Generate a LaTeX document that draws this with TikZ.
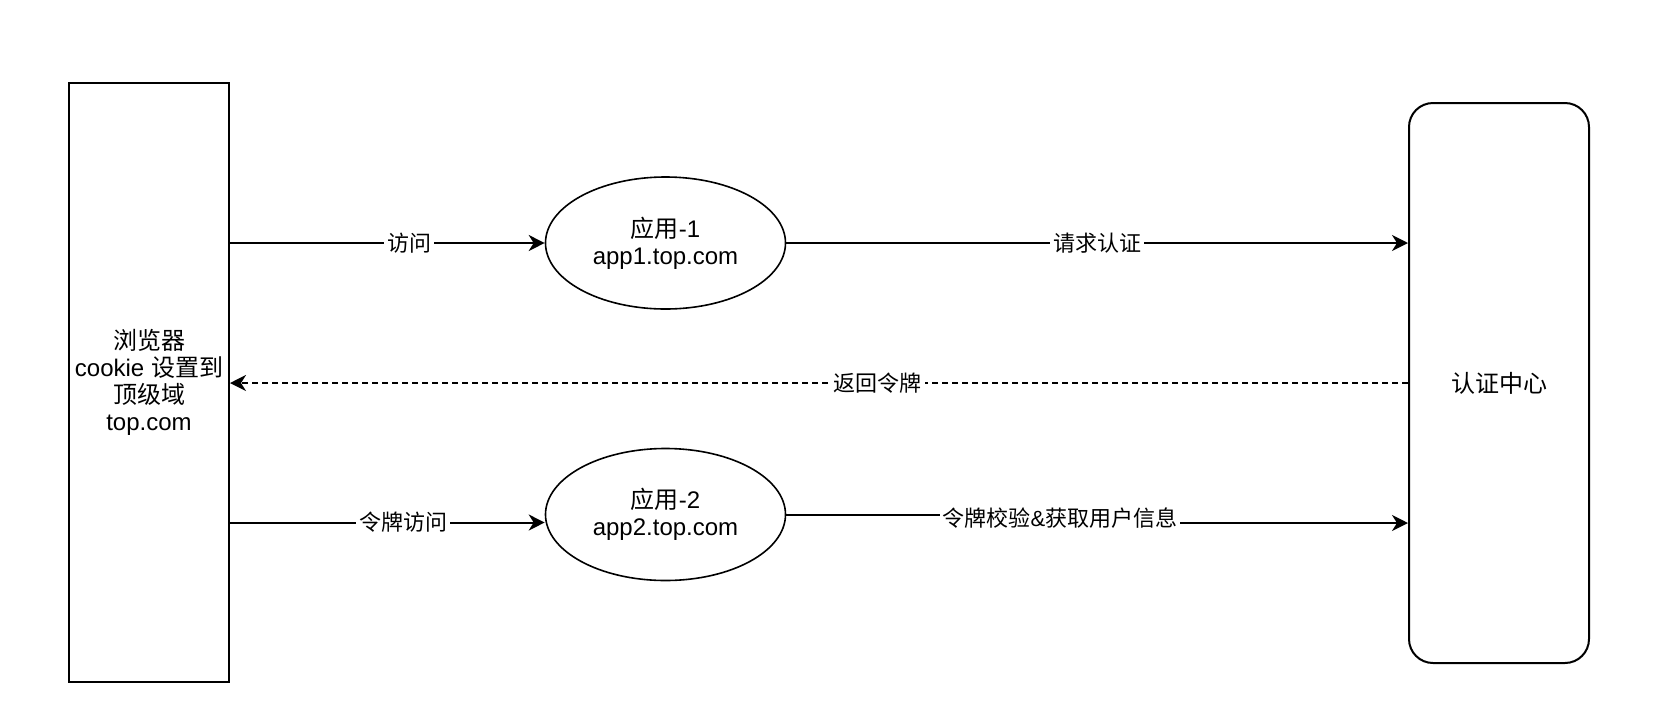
\documentclass[tikz,border=0pt]{standalone}
\usepackage{fontspec}
\setmainfont{Liberation Sans}
\newfontfamily\cjk{Noto Sans CJK SC}
\usetikzlibrary{shapes.geometric,arrows.meta}

\begin{document}
\begin{tikzpicture}[x=0.5pt,y=-0.5pt,>={Stealth[length=8pt,width=8pt,inset=2.5pt]},
    box/.style={draw,line width=1pt,align=center,inner sep=0pt,font=\fontsize{12pt}{13.5pt}\selectfont},
    app/.style={draw,ellipse,line width=0.8pt,minimum width=120pt,minimum height=66pt,align=center,inner sep=0pt,font=\fontsize{12pt}{13.5pt}\selectfont},
    link/.style={->,line width=1pt},
    lbl/.style={fill=white,inner sep=1.5pt,font=\fontsize{11pt}{12pt}\selectfont}]
    \useasboundingbox (0,0) rectangle (1662,708);
    % browser and auth center
    \node[box,minimum width=80pt,minimum height=299.5pt] (browser) at (149,382.5) {{\cjk 浏览器}\\cookie {\cjk 设置到}\\{\cjk 顶级域}\\top.com};
    \node[box,rounded corners=12pt,minimum width=90pt,minimum height=280pt] (auth) at (1499,383) {{\cjk 认证中心}};
    % apps
    \node[app] (app1) at (665.5,243) {{\cjk 应用}-1\\app1.top.com};
    \node[app] (app2) at (665.5,514.5) {{\cjk 应用}-2\\app2.top.com};
    \coordinate (in2) at ([yshift=-4pt]app2.west);
    \coordinate (chk) at (1060,523);
    % links
    \draw[link] (browser.east |- app1) -- node[lbl,pos=.57]{\cjk 访问} (app1);
    \draw[link] (app1.east) -- node[lbl]{\cjk 请求认证} (app1.east -| auth.west);
    \draw[link,dash pattern=on 3pt off 2pt] (auth.west) -- node[lbl,pos=.45]{\cjk 返回令牌} (auth.west -| browser.east);
    \draw[link] (browser.east |- in2) -- node[lbl,pos=.55]{\cjk 令牌访问} (in2);
    \draw[link] (app2.east) -| node[lbl,yshift=-2pt]{{\cjk 令牌校验}\&{\cjk 获取用户信息}} (chk) -- (chk -| auth.west);
\end{tikzpicture}
\end{document}
